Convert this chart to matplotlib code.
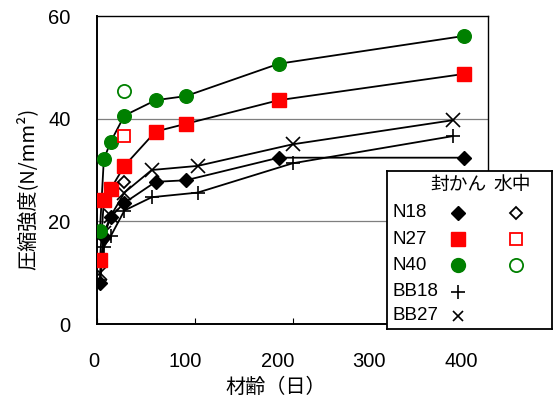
import matplotlib
matplotlib.use("Agg")
import matplotlib.pyplot as plt
from matplotlib.transforms import blended_transform_factory

plt.rcParams['font.family'] = ['Liberation Sans', 'Noto Sans CJK JP', 'DejaVu Sans']

# Ages (days) and compressive strength (N/mm2)
age_n = [3, 7, 14, 28, 60, 91, 186, 375]
n18 = [7.9, 17.0, 20.9, 23.6, 27.7, 28.0, 32.4, 32.4]
n27 = [12.4, 24.1, 26.3, 30.8, 37.5, 39.0, 43.6, 48.7]
n40 = [18.2, 32.1, 35.5, 40.6, 43.6, 44.4, 50.7, 56.1]

age_bb = [3, 7, 14, 28, 56, 103, 200, 364]
bb18 = [8.5, 15.0, 17.1, 22.1, 24.7, 25.6, 31.3, 36.6]
bb27 = [9.9, 17.7, 21.0, 25.6, 30.0, 30.8, 35.0, 39.7]

# Water-cured specimens (28 days)
age_w = [28]
n18_w = [27.7]
n27_w = [36.7]
n40_w = [45.3]

x_ticks = [0, 100, 200, 300, 400]
y_ticks = [0, 20, 40, 60]

fig = plt.figure(figsize=(5.53, 4.01), dpi=100)
ax = fig.add_axes([97/553, 1-324/401, 391/553, 308/401])
ax.set_xlim(0, 400)
ax.set_ylim(0, 60)

for yv in (20, 40):
    ax.axhline(yv, color='#7f7f7f', lw=0.9, zorder=1)

line_kw = dict(color='black', lw=1.3, zorder=2)
ax.plot(age_n, n18, **line_kw)
ax.plot(age_n, n27, **line_kw)
ax.plot(age_n, n40, **line_kw)
ax.plot(age_bb, bb18, **line_kw)
ax.plot(age_bb, bb27, **line_kw)

mk = dict(ls='none', zorder=3)
ax.plot(age_bb, bb18, marker='+', ms=10, mew=1.2, color='black', **mk)
ax.plot(age_bb, bb27, marker='x', ms=9.5, mew=1.2, color='black', **mk)
ax.plot(age_n, n18, marker='D', ms=7, color='black', mec='black', **mk)
ax.plot(age_n, n27, marker='s', ms=9.5, color='#ff0000', mec='#ff0000', **mk)
ax.plot(age_n, n40, marker='o', ms=9.8, color='#008000', mec='#008000', **mk)
ax.plot(age_w, n18_w, marker='D', ms=6.5, mfc='white', mec='black', mew=1.3, **mk)
ax.plot(age_w, n27_w, marker='s', ms=9, mfc='white', mec='#ff0000', mew=1.3, **mk)
ax.plot(age_w, n40_w, marker='o', ms=9.5, mfc='white', mec='#008000', mew=1.3, **mk)

for s in ax.spines.values():
    s.set_linewidth(1.4)
    s.set_color('black')
ax.spines['top'].set_linewidth(1.0)
ax.spines['right'].set_linewidth(1.0)

ax.set_xticks(x_ticks)
ax.set_xticklabels([''] * len(x_ticks))
ax.tick_params(axis='x', direction='in', length=4, width=0.8)
ax.set_yticks(y_ticks)
ax.set_yticklabels([str(v) for v in y_ticks], fontsize=14.5)
ax.tick_params(axis='y', length=0, pad=19)

# x tick labels sit on a slightly narrower spacing than the ticks
trans = blended_transform_factory(ax.transData, ax.transAxes)
for v in x_ticks:
    ax.text(v * 0.941 - 3.6, -0.122, str(v), transform=trans,
            ha='center', va='center', fontsize=14.5, clip_on=False)

ax.set_xlabel('材齢（日）', fontsize=14.5, va='center',
              family=['Noto Sans CJK JP', 'DejaVu Sans'])
ax.xaxis.set_label_coords(0.458, -0.2045)
ax.set_ylabel('圧縮強度(N/mm²)', fontsize=14.5, va='center',
              family=['Noto Sans CJK JP', 'DejaVu Sans'])
ax.yaxis.set_label_coords(-0.179, 0.438)

# Legend panel
lg = fig.add_axes([387/553, 1-329/401, 165/553, 158/401])
lg.set_xlim(0, 165)
lg.set_ylim(158, 0)
lg.set_xticks([])
lg.set_yticks([])
lg.set_facecolor('white')
for s in lg.spines.values():
    s.set_linewidth(1.3)
    s.set_color('black')

col1, col2 = 71, 129
rows = [41.5, 68, 94, 120.5, 145]
fs = 13.5
lg.text(col1, 14, '封かん', ha='center', va='center', fontsize=fs)
lg.text(col2 - 4, 14, '水中', ha='center', va='center', fontsize=fs)
names = ['N18', 'N27', 'N40', 'BB18', 'BB27']
for name, yv in zip(names, rows):
    lg.text(6, yv, name, ha='left', va='center', fontsize=fs)

lg.plot([col1], [rows[0]], marker='D', ms=7, color='black', ls='none')
lg.plot([col2], [rows[0]], marker='D', ms=6.5, mfc='white', mec='black', mew=1.3, ls='none')
lg.plot([col1], [rows[1]], marker='s', ms=9.5, color='#ff0000', ls='none')
lg.plot([col2], [rows[1]], marker='s', ms=9, mfc='white', mec='#ff0000', mew=1.3, ls='none')
lg.plot([col1], [rows[2]], marker='o', ms=10, color='#008000', ls='none')
lg.plot([col2], [rows[2]], marker='o', ms=9.5, mfc='white', mec='#008000', mew=1.3, ls='none')
lg.plot([col1], [rows[3]], marker='+', ms=10, mew=1.2, color='black', ls='none')
lg.plot([col1], [rows[4]], marker='x', ms=7, mew=1.2, color='black', ls='none')

fig.savefig('out.png', dpi=100)
